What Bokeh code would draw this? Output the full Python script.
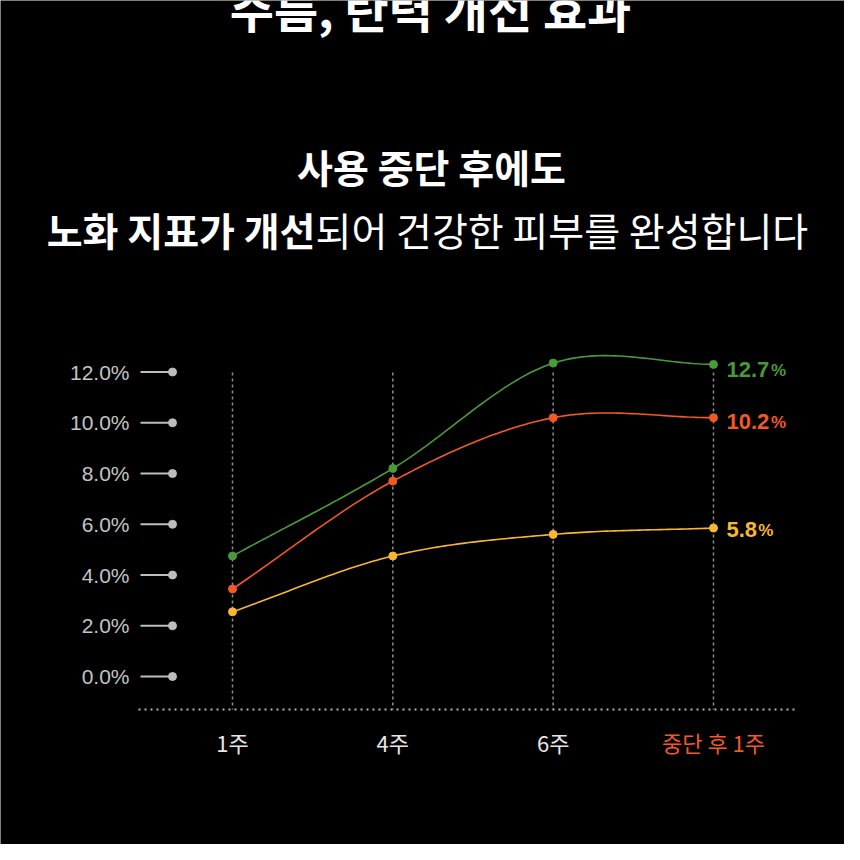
import numpy as np
from bokeh.plotting import figure
from bokeh.models import Range1d
from bokeh.core.properties import value
from bokeh.embed import file_html
from bokeh.resources import INLINE

# ---------------- data ----------------
title_text = "주름, 탄력 개선 효과"
subtitle_line1 = "사용 중단 후에도"
subtitle_bold = "노화 지표가 개선"
subtitle_regular = "되어 건강한 피부를 완성합니다"

categories = ["1주", "4주", "6주", "중단 후 1주"]
category_colors = ["#e6e6e6", "#e6e6e6", "#e6e6e6", "#f15a24"]

series_names = ["굵은 주름 - 이마", "굵은 주름 - 눈가", "전탄력 - 뺨"]
forehead = [4.75, 8.2, 12.35, 12.3]
eye_area = [3.45, 7.7, 10.2, 10.2]
cheek = [2.55, 4.75, 5.6, 5.85]
end_labels = ["12.7", "10.2", "5.8"]
series_colors = ["#4a9a3a", "#f15a24", "#f7b731"]

y_ticks = [0, 2, 4, 6, 8, 10, 12]
y_tick_labels = ["0.0%", "2.0%", "4.0%", "6.0%", "8.0%", "10.0%", "12.0%"]

# ---------------- layout helpers (canvas px -> data) ----------------
X0, DX = 232.0, 160.33
Y0, DY = 676.0, 25.375
W = H = 844


def dx(X):
    return (X - X0) / DX


def dy(Y):
    return (Y0 - Y) / DY


KR = value("Noto Sans CJK KR")
NUM = value("Liberation Sans")

p = figure(width=W, height=H,
           x_range=Range1d(dx(0), dx(W)), y_range=Range1d(dy(H), dy(0)),
           output_backend="svg", toolbar_location=None, min_border=0)
p.axis.visible = False
p.grid.visible = False
p.outline_line_color = None
p.background_fill_color = "#000000"
p.border_fill_color = "#000000"

# titles
p.text(x=[dx(430)], y=[dy(6)], text=[title_text], text_font=KR, text_font_size="48px",
       text_font_style="bold", text_color="#ffffff", text_align="center", text_baseline="middle")
p.text(x=[dx(431)], y=[dy(165)], text=[subtitle_line1], text_font=KR, text_font_size="39px",
       text_font_style="bold", text_color="#ffffff", text_align="center", text_baseline="middle")
p.text(x=[dx(315)], y=[dy(228)], text=[subtitle_bold], text_font=KR, text_font_size="39px",
       text_font_style="bold", text_color="#ffffff", text_align="right", text_baseline="middle")
p.text(x=[dx(315)], y=[dy(228)], text=[subtitle_regular], text_font=KR, text_font_size="39px",
       text_font_style="normal", text_color="#ffffff", text_align="left", text_baseline="middle")

xs = np.arange(len(categories), dtype=float)

# vertical dashed guides
p.segment(x0=xs, y0=[dy(372)] * len(xs), x1=xs, y1=[dy(709)] * len(xs),
          line_color="#8c8c8c", line_width=1.5, line_dash="3 3")
# dotted baseline
p.line(x=[dx(138), dx(797)], y=[dy(709), dy(709)], line_color="#b4b4b4",
       line_width=2, line_dash="2 4")

# y ticks
yt = np.array(y_ticks, dtype=float)
p.segment(x0=[dx(140)] * len(yt), y0=yt, x1=[dx(171)] * len(yt), y1=yt,
          line_color="#bdbdbd", line_width=2)
p.scatter(x=[dx(172)] * len(yt), y=yt, size=8, color="#bdbdbd")
p.text(x=[dx(129)] * len(yt), y=yt, text=y_tick_labels, text_font=NUM, text_font_size="21px",
       text_color="#c4c4c4", text_align="right", text_baseline="middle")

# x labels
p.text(x=xs, y=[dy(741)] * len(xs), text=categories, text_font=KR, text_font_size="22px",
       text_color=category_colors, text_align="center", text_baseline="middle")


# smooth curves (Catmull-Rom through the data points)
def smooth(xv, yv, n=40):
    xv = np.asarray(xv, float)
    yv = np.asarray(yv, float)
    m = np.zeros_like(yv)
    m[1:-1] = (yv[2:] - yv[:-2]) / (xv[2:] - xv[:-2])
    m[0] = (yv[1] - yv[0]) / (xv[1] - xv[0])
    m[-1] = (yv[-1] - yv[-2]) / (xv[-1] - xv[-2])
    ox, oy = [], []
    for i in range(len(xv) - 1):
        h = xv[i + 1] - xv[i]
        t = np.linspace(0, 1, n, endpoint=(i == len(xv) - 2))
        h00 = 2 * t**3 - 3 * t**2 + 1
        h10 = t**3 - 2 * t**2 + t
        h01 = -2 * t**3 + 3 * t**2
        h11 = t**3 - t**2
        ox.append(xv[i] + t * h)
        oy.append(h00 * yv[i] + h10 * h * m[i] + h01 * yv[i + 1] + h11 * h * m[i + 1])
    return np.concatenate(ox), np.concatenate(oy)


all_series = [forehead, eye_area, cheek]
label_offsets = [5, 4, 1]
for vals, col, lab, off in zip(all_series, series_colors, end_labels, label_offsets):
    sx, sy = smooth(xs, vals)
    p.line(sx, sy, line_color=col, line_width=1.6)
    p.scatter(xs, vals, size=8, color=col)
    p.text(x=[dx(726)], y=[vals[-1]], text=[lab], text_font=NUM, text_font_size="22px",
           text_font_style="bold", text_color=col, text_align="left", text_baseline="middle",
           y_offset=off)
    w = sum(0.28 if c == "." else 0.58 for c in lab) * 22
    p.text(x=[dx(726 + w)], y=[vals[-1]], text=["%"], text_font=NUM, text_font_size="17px",
           text_font_style="bold", text_color=col, text_align="left", text_baseline="middle",
           y_offset=off + 1)

# legend (below the visible area, as in the reference)
leg_dot_x = [52, 333, 613]
leg_text_x = [135, 415, 700]
p.scatter(x=[dx(v) for v in leg_dot_x], y=[dy(866)] * 3, size=8, color=series_colors)
p.text(x=[dx(v) for v in leg_text_x], y=[dy(868)] * 3, text=series_names, text_font=KR,
       text_font_size="22px", text_color="#ffffff", text_align="left", text_baseline="middle")

open("out.html", "w").write(file_html(p, INLINE))
